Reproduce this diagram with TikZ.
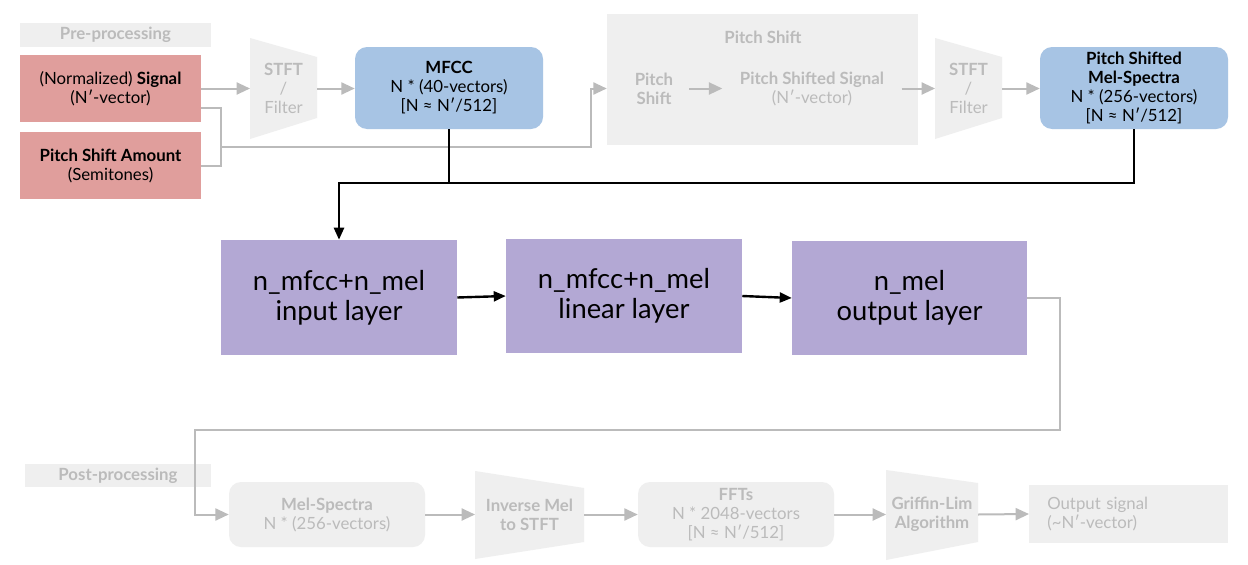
\documentclass[tikz,border=0pt]{standalone}
\usepackage{fontspec}
\setmainfont{Lato}
\usetikzlibrary{arrows.meta}
\definecolor{salmon}{HTML}{E09E9C}
\definecolor{skyb}{HTML}{A7C4E4}
\definecolor{lav}{HTML}{B3A8D4}
\definecolor{lgray}{HTML}{EFEFEF}
\definecolor{tgray}{HTML}{BBBBBB}
\definecolor{lngray}{HTML}{BBBBBB}
\begin{document}
\begin{tikzpicture}[x=0.75pt,y=-0.75pt,
 sz/.style 2 args={minimum width=#1*0.75pt, minimum height=#2*0.75pt},
 base/.style={inner sep=0pt, align=center, font=\fontsize{12.6}{14.25}\selectfont},
 redbox/.style={base, fill=salmon, text=black},
 bluebox/.style={base, fill=skyb, rounded corners=9pt},
 purplebox/.style={base, fill=lav, font=\fontsize{20.5}{22.5}\selectfont},
 graybox/.style={base, fill=lgray, text=tgray},
 grayround/.style={graybox, rounded corners=9pt},
 glabel/.style={base, text=tgray},
 trap/.style={fill=lgray},
 garrow/.style={draw=lngray, line width=1.5pt, -{Triangle[length=10pt,width=9pt]}},
 gline/.style={draw=lngray, line width=1.5pt},
 karrow/.style={draw=black, line width=1.8pt, -{Triangle[length=9pt,width=7.5pt]}},
 kline/.style={draw=black, line width=1.8pt}
]
\useasboundingbox (0,0) rectangle (1248,564);
\fill[white] (0,0) rectangle (1248,564);

% ---------- pre-processing ----------
\node[graybox, sz={191}{24}] (pre) at (115.5,35) {\bfseries Pre-processing};
\node[redbox, sz={181}{67}] (sig) at (110.5,88.5) {(Normalized) \textbf{Signal}\\(N′-vector)};
\node[redbox, sz={181}{67}] (psa) at (110.5,165.5) {\textbf{Pitch Shift Amount}\\(Semitones)};

\fill[trap] (250,38) -- (317,57) -- (317,118) -- (250,139) -- cycle;
\node[glabel] (stft1) at (283.5,88.5) {\bfseries STFT\\/\\Filter};
\coordinate (stft1w) at (250,88.5);
\coordinate (stft1e) at (317,88.5);

\node[bluebox, sz={188}{82}] (mfcc) at (449,88) {\textbf{MFCC}\\N * (40-vectors)\\{}[N ≈ N′/512]};

\draw[garrow] (sig.east) -- (stft1w);
\draw[garrow] (stft1e) -- (mfcc.west |- stft1e);

\coordinate (j) at (221,147);
\coordinate (bend) at (591,147);
\draw[gline] ([yshift=-14.6pt]sig.east) -| (j);
\draw[gline] (psa.east) -| (j);

% ---------- pitch shift ----------
\node[graybox, sz={311}{131}] (psbox) at (762.5,79.5) {};
\node[glabel] (pstitle) at (763,37) {\bfseries Pitch Shift};
\node[glabel, inner xsep=12pt] (psh) at (654,88.5) {\bfseries Pitch\\\bfseries Shift};
\node[glabel, inner xsep=13pt] (pss) at (812,88.5) {\textbf{Pitch Shifted Signal}\\(N′-vector)};
\draw[garrow] (j) -- (bend) |- (psbox.west |- stft1e);
\draw[garrow] (psh.east) -- (pss.west);

\fill[trap] (935,38) -- (1002,57) -- (1002,118) -- (935,139) -- cycle;
\node[glabel] (stft2) at (968.5,88.5) {\bfseries STFT\\/\\Filter};
\coordinate (stft2w) at (935,88.5);
\coordinate (stft2e) at (1002,88.5);
\draw[garrow] (pss.east) -- (stft2w);

\node[bluebox, sz={188}{82}] (psms) at (1134,88) {\textbf{Pitch Shifted}\\\textbf{Mel-Spectra}\\N * (256-vectors)\\{}[N ≈ N′/512]};
\draw[garrow] (stft2e) -- (psms.west |- stft2e);

% ---------- network ----------
\node[purplebox, sz={236}{115}] (inl) at (339,297.5) {n\_mfcc+n\_mel\\input layer};
\node[purplebox, sz={236}{114}] (lin) at (624,296) {n\_mfcc+n\_mel\\linear layer};
\node[purplebox, sz={235}{114}] (outl) at (909.5,298) {n\_mel\\output layer};

\coordinate (kj) at (339,183);
\draw[kline] (mfcc.south) -- (mfcc.south |- kj);
\draw[karrow] (psms.south) -- (psms.south |- kj) -- (kj) -- (inl.north);
\draw[karrow] (inl.east) -- (lin.west);
\draw[karrow] (lin.east) -- (outl.west);

% ---------- post-processing ----------
\node[graybox, sz={186}{23}] (post) at (118,475.5) {\bfseries Post-processing};
\node[grayround, sz={196}{65}] (mel) at (327,514.5) {\textbf{Mel-Spectra}\\N * (256-vectors)};

\coordinate (r1) at (1060,298);
\coordinate (r2) at (195,430);
\draw[garrow] (outl.east) -- (r1) |- (r2) |- (mel.west);

\fill[trap] (475,471) -- (584,488) -- (584,542) -- (475,559) -- cycle;
\node[glabel] (imel) at (529.5,514.5) {\bfseries Inverse Mel\\\bfseries to STFT};
\coordinate (imelw) at (475,514.5);
\coordinate (imele) at (584,514.5);

\node[grayround, sz={196}{65}] (ffts) at (736,514.5) {\textbf{FFTs}\\N * 2048-vectors\\{}[N ≈ N′/512]};

\fill[trap] (886,470) -- (978,483) -- (978,542) -- (886,560) -- cycle;
\node[glabel] (gla) at (932,514.5) {\bfseries Griffin-Lim\\\bfseries Algorithm};
\coordinate (glaw) at (886,514.5);
\coordinate (glae) at (978,514.5);

\node[graybox, anchor=west, align=left, text width=122.25pt, inner xsep=13.5pt, sz={199}{58}] (outsig) at (1029,514) {Output signal\\(\textasciitilde N′-vector)};

\draw[garrow] (mel.east) -- (imelw);
\draw[garrow] (imele) -- (ffts.west);
\draw[garrow] (ffts.east) -- (glaw);
\draw[garrow] (glae) -- (outsig.west);
\end{tikzpicture}
\end{document}
